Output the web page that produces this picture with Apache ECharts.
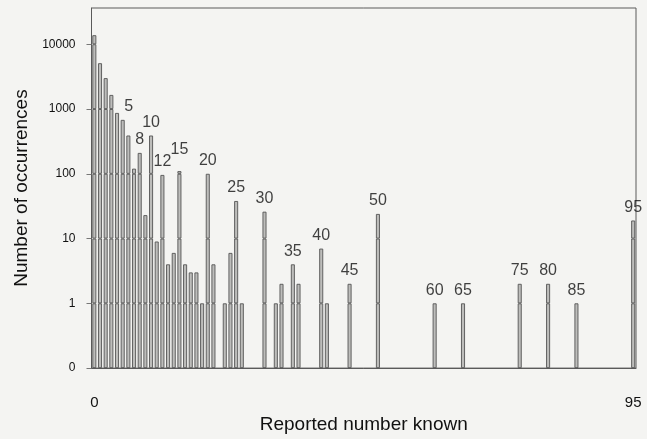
<!DOCTYPE html>
<html>
<head>
<meta charset="utf-8">
<script src="https://cdn.jsdelivr.net/npm/echarts@6/dist/echarts.min.js"></script>
<style>
  html, body { margin: 0; padding: 0; background: #f4f4f2; }
  #chart { width: 647px; height: 439px; }
</style>
</head>
<body>
<div id="chart"></div>
<script>
// ---- data ----
const categories = [];
for (let i = 0; i <= 95; i++) categories.push(String(i));

// number of occurrences for each reported number known (0..95)
const counts = [
  13800, 5100, 3000, 1650, 870, 680, 390, 120, 210, 23,   // 0-9
  390, 9, 96, 4, 6, 110, 4, 3, 3, 1,                      // 10-19
  100, 4, 0, 1, 6, 38, 1, 0, 0, 0,                        // 20-29
  26, 0, 1, 2, 0, 4, 2, 0, 0, 0,                          // 30-39
  7, 1, 0, 0, 0, 2, 0, 0, 0, 0,                           // 40-49
  24, 0, 0, 0, 0, 0, 0, 0, 0, 0,                          // 50-59
  1, 0, 0, 0, 0, 1, 0, 0, 0, 0,                           // 60-69
  0, 0, 0, 0, 0, 2, 0, 0, 0, 0,                           // 70-79
  2, 0, 0, 0, 0, 1, 0, 0, 0, 0,                           // 80-89
  0, 0, 0, 0, 0, 19                                       // 90-95
];

const labeledBars = [5, 8, 10, 12, 15, 20, 25, 30, 35, 40, 45, 50, 60, 65, 75, 80, 85, 95];
const xTickLabels = ['0', '95'];
const yTickValues = [0, 1, 2, 3, 4, 5];
const yTickLabels = ['0', '1', '10', '100', '1000', '10000'];

// ---- build options ----
// axis position: 0 count sits one decade below 1
const toAxis = c => (c > 0 ? Math.log10(c) + 1 : null);
const tVals = counts.map(toAxis);

// split each bar into decade segments so decade lines show through the bars
const segSeries = [];
for (let d = 0; d < 6; d++) {
  segSeries.push({
    type: 'bar',
    stack: 'b',
    barWidth: 4,
    silent: true,
    itemStyle: { color: '#bdbdbb', borderColor: '#555555', borderWidth: 0.9 },
    data: tVals.map(t => (t !== null && t > d ? Math.min(t - d, 1) : null))
  });
}

const labelNudges = { 5: [6, 0], 15: [0, -9] };
const labelData = labeledBars.map(i => {
  const item = { value: [i, tVals[i]] };
  if (labelNudges[i]) item.label = { offset: labelNudges[i] };
  return item;
});

const chart = echarts.init(document.getElementById('chart'));
chart.setOption({
  animation: false,
  backgroundColor: '#f4f4f2',
  grid: {
    left: 91.5, right: 11, top: 8, bottom: 66,
    show: true, borderColor: '#5a5a5a', borderWidth: 1, backgroundColor: 'transparent'
  },
  xAxis: {
    type: 'category',
    data: categories,
    boundaryGap: true,
    name: 'Reported number known',
    nameLocation: 'middle',
    nameGap: 44,
    nameTextStyle: { fontFamily: 'Liberation Sans', fontSize: 19, color: '#111' },
    axisLine: { show: true, lineStyle: { color: '#5a5a5a', width: 1 } },
    axisTick: { show: false },
    axisLabel: {
      interval: 0,
      margin: 27,
      fontFamily: 'Liberation Sans', fontSize: 15, color: '#111',
      formatter: v => (xTickLabels.indexOf(v) >= 0 ? v : '')
    },
    splitLine: { show: false }
  },
  yAxis: {
    type: 'value',
    min: 0,
    max: 5.56,
    interval: 1,
    name: 'Number of occurrences',
    nameLocation: 'middle',
    nameGap: 50,
    nameRotate: 90,
    nameTextStyle: { fontFamily: 'Liberation Sans', fontSize: 19, color: '#111' },
    axisLine: { show: true, lineStyle: { color: '#5a5a5a', width: 1 } },
    axisTick: { show: true, length: 5, customValues: yTickValues, lineStyle: { color: '#777' } },
    axisLabel: {
      customValues: yTickValues,
      margin: 16,
      fontFamily: 'Liberation Sans', fontSize: 12, color: '#111',
      formatter: v => {
        const k = yTickValues.indexOf(Math.round(v));
        return k >= 0 ? yTickLabels[k] : '';
      }
    },
    splitLine: { show: false }
  },
  series: segSeries.concat([{
    type: 'scatter',
    symbolSize: 0,
    silent: true,
    data: labelData,
    label: {
      show: true,
      position: 'top',
      distance: 5,
      fontFamily: 'Liberation Sans', fontSize: 16, color: '#111',
      formatter: p => categories[p.value[0]]
    }
  }])
});
</script>
</body>
</html>
